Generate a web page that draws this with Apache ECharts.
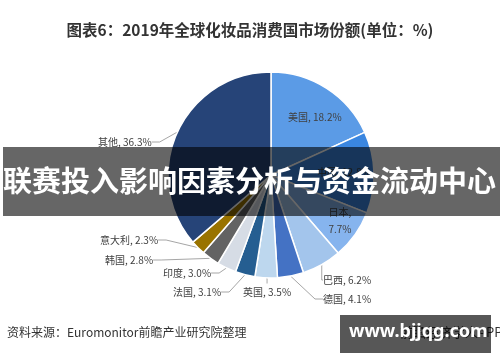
<!DOCTYPE html>
<html>
<head>
<meta charset="utf-8">
<script src="https://cdn.jsdelivr.net/npm/echarts@6/dist/echarts.min.js"></script>
<style>
html,body{margin:0;padding:0;background:#fff;}
#chart{width:500px;height:362px;}
</style>
</head>
<body>
<div id="chart"></div>
<script>
// Data
const categories = ['美国', '中国', '日本', '巴西', '德国', '英国', '法国', '印度', '韩国', '意大利', '其他'];
const shares = [18.2, 12.8, 7.7, 6.2, 4.1, 3.5, 3.1, 3.0, 2.8, 2.3, 36.3];
const titleText = '图表6：2019年全球化妆品消费国市场份额(单位：%)';
const sourceText = '资料来源：Euromonitor前瞻产业研究院整理';
const bannerText = '联赛投入影响因素分析与资金流动中心';
const watermarkText = 'www.bjjqg.com';

// Styles
const colors = ['#5b9be6', '#3a86e0', '#86b4ee', '#a3c5ec', '#4472c4', '#bdd7ee', '#255e91', '#d6dce5', '#636363', '#997300', '#264478'];
const insideLabels = {'美国': true, '中国': true, '日本': true};
// label anchor layout (left x, middle y, align)
const labelPlace = {
  '美国': [288, 117, 'left'],
  '中国': [317, 172, 'left'],
  '日本': [340, 221, 'center'],
  '巴西': [323, 280, 'left'],
  '德国': [323, 299, 'left'],
  '英国': [243, 292, 'left'],
  '法国': [173, 292, 'left'],
  '印度': [163, 273, 'left'],
  '韩国': [105, 260, 'left'],
  '意大利': [100, 240, 'left'],
  '其他': [98, 142, 'left']
};

const seriesData = categories.map((c, i) => ({
  name: c,
  value: shares[i],
  itemStyle: {color: colors[i]},
  labelLine: {show: !insideLabels[c]}
}));

const chart = echarts.init(document.getElementById('chart'), null, {renderer: 'canvas'});
chart.setOption({
  animation: false,
  backgroundColor: '#ffffff',
  title: {
    text: titleText,
    left: 'center',
    top: 17,
    textStyle: {fontFamily: 'Noto Sans CJK SC', fontSize: 15.5, fontWeight: 'bold', color: '#333333'}
  },
  series: [{
    type: 'pie',
    center: [271, 175],
    radius: [0, 103],
    startAngle: 90,
    clockwise: true,
    avoidLabelOverlap: false,
    itemStyle: {borderColor: '#ffffff', borderWidth: 1.5},
    label: {
      show: true,
      position: 'outside',
      fontFamily: 'Noto Sans CJK SC',
      fontSize: 10,
      color: '#404040',
      lineHeight: 17,
      formatter: p => p.name === '日本' ? p.name + ',\n' + p.value.toFixed(1) + '%' : p.name + ', ' + p.value.toFixed(1) + '%'
    },
    labelLine: {show: true, length: 8, length2: 8, lineStyle: {color: '#a6a6a6', width: 1}},
    labelLayout: function (p) {
      const pl = labelPlace[categories[p.dataIndex]];
      return {x: pl[0], y: pl[1], align: pl[2], verticalAlign: 'middle'};
    },
    data: seriesData
  }],
  graphic: [
    {type: 'rect', z: 100, shape: {x: 3, y: 147, width: 497, height: 69}, style: {fill: 'rgba(0,0,0,0.6)'}},
    {type: 'text', z: 101, left: 3, top: 166, style: {text: bannerText, fill: '#ffffff', font: 'bold 29px "Noto Sans CJK SC"'}},
    {type: 'text', z: 50, left: 7, top: 326, style: {text: sourceText, fill: '#333333', font: '12px "Noto Sans CJK SC"'}},
    {type: 'text', z: 50, left: 400, top: 326, style: {text: '前瞻经济学人APP', fill: '#333333', font: '13px "Noto Sans CJK SC"'}},
    {type: 'rect', z: 100, shape: {x: 340, y: 315, width: 151, height: 38}, style: {fill: 'rgba(0,0,0,0.66)'}},
    {type: 'text', z: 101, left: 349, top: 323, style: {text: watermarkText, fill: '#ffffff', font: 'bold 18px "Noto Sans"'}}
  ]
});
</script>
</body>
</html>
